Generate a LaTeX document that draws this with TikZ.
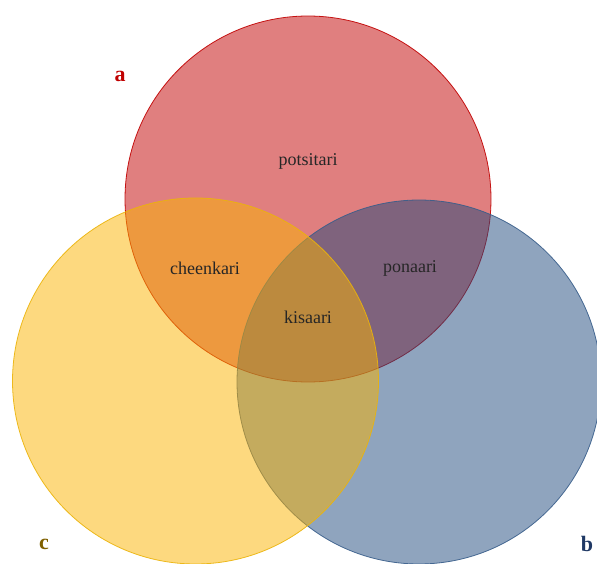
\documentclass[tikz,border=0pt]{standalone}
\usepackage{fontspec}
\setmainfont{Liberation Serif}
\definecolor{afill}{RGB}{193,0,0}
\definecolor{aline}{RGB}{192,0,0}
\definecolor{bfill}{RGB}{31,73,125}
\definecolor{bline}{RGB}{56,93,138}
\definecolor{cfill}{RGB}{251,179,0}
\definecolor{cline}{RGB}{235,180,10}
\definecolor{alab}{RGB}{192,0,0}
\definecolor{blab}{RGB}{31,56,100}
\definecolor{clab}{RGB}{127,96,0}
\begin{document}
\begin{tikzpicture}[x=1pt,y=-1pt,
  setcircle/.style={circle, inner sep=0pt, line width=0.8pt, fill opacity=0.5, draw opacity=0.9},
  region/.style={font=\fontsize{18}{21}\selectfont, text=black!85},
  setlabel/.style={font=\fontsize{22}{25}\selectfont\bfseries}]
\useasboundingbox (0,0) rectangle (597,564);
\node[setcircle, minimum size=366pt, fill=afill, draw=aline] (A) at (308,199) {};
\node[setcircle, minimum size=364pt, fill=bfill, draw=bline] (B) at (419,382) {};
\node[setcircle, minimum size=366pt, fill=cfill, draw=cline] (C) at (195.5,381) {};
\node[region] (potsitari) at (308,161) {potsitari};
\node[region] (cheenkari) at (205,268) {cheenkari};
\node[region] (ponaari) at (410,268) {ponaari};
\node[region] (kisaari) at (308,317) {kisaari};
\node[setlabel, text=alab] (la) at (120,76) {a};
\node[setlabel, text=blab] (lb) at (587,544) {b};
\node[setlabel, text=clab] (lc) at (44,544) {c};
\end{tikzpicture}
\end{document}
